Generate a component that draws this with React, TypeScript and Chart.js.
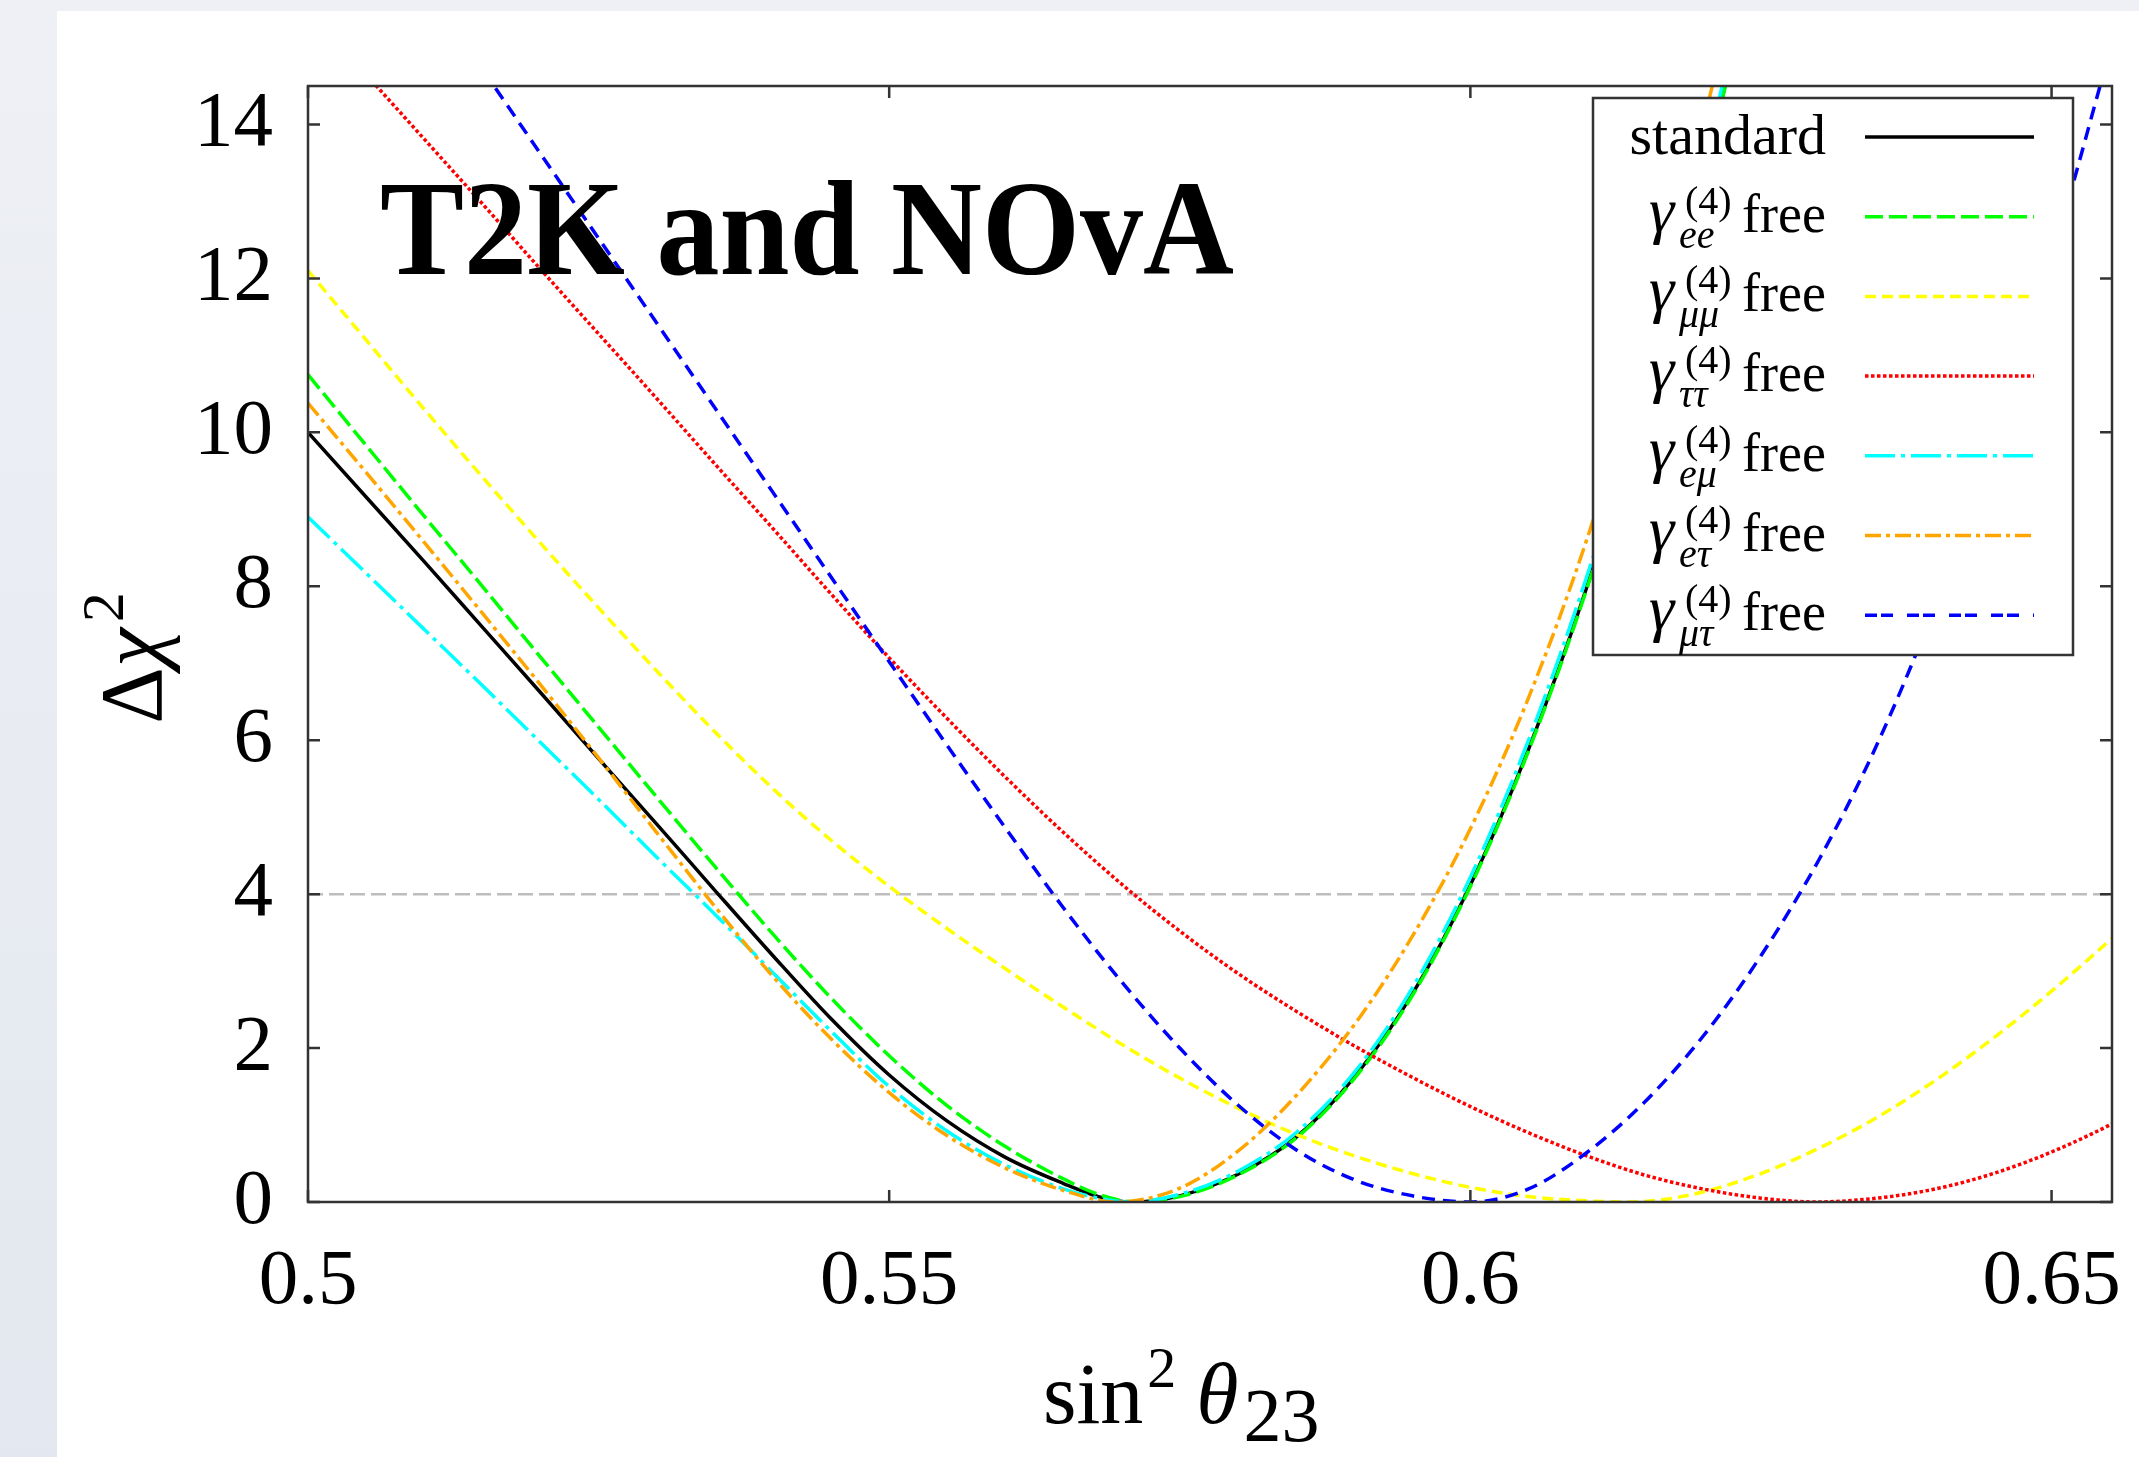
import React, { useEffect, useRef } from 'react';
import { Chart, registerables } from 'chart.js';

Chart.register(...registerables);

const SERIF = "'Liberation Serif', 'Times New Roman', serif";

// ---- axes ----
const X_MIN = 0.5;
const X_MAX = 0.6552;
const Y_MIN = 0;
const Y_MAX = 14.5;
const xTickValues = [0.5, 0.55, 0.6, 0.65];
const xTickLabels = ['0.5', '0.55', '0.6', '0.65'];
const yTickValues = [0, 2, 4, 6, 8, 10, 12, 14];
const yTickLabels = ['0', '2', '4', '6', '8', '10', '12', '14'];
const thresholdLevel = 4;
const plotTitle = 'T2K and NOvA';

// ---- series (sin^2 theta23 , delta chi^2) ----
const xStandard = [0.5, 0.505, 0.51, 0.515, 0.52, 0.525, 0.53, 0.535, 0.54, 0.545, 0.55, 0.555, 0.56, 0.565, 0.568, 0.5708, 0.575, 0.58, 0.585, 0.59, 0.595, 0.6, 0.605, 0.61, 0.615, 0.62, 0.625];
const yStandard = [10.0, 9.16, 8.32, 7.47, 6.62, 5.76, 4.91, 4.05, 3.2, 2.38, 1.65, 1.05, 0.58, 0.24, 0.07, 0, 0.08, 0.36, 0.84, 1.62, 2.7, 4.12, 5.88, 7.98, 10.45, 13.3, 16.5];

const xEE = [0.5, 0.505, 0.51, 0.515, 0.52, 0.525, 0.53, 0.535, 0.54, 0.545, 0.55, 0.555, 0.56, 0.565, 0.568, 0.5712, 0.575, 0.58, 0.585, 0.59, 0.595, 0.6, 0.605, 0.61, 0.615, 0.62, 0.625];
const yEE = [10.75, 9.83, 8.91, 8.0, 7.08, 6.17, 5.26, 4.36, 3.48, 2.65, 1.9, 1.25, 0.72, 0.3, 0.1, 0, 0.07, 0.35, 0.83, 1.6, 2.68, 4.1, 5.86, 7.96, 10.43, 13.28, 16.5];

const xMuMu = [0.5, 0.505, 0.51, 0.515, 0.52, 0.525, 0.53, 0.535, 0.54, 0.545, 0.55, 0.555, 0.56, 0.565, 0.57, 0.575, 0.58, 0.585, 0.59, 0.595, 0.6, 0.605, 0.61, 0.6135, 0.617, 0.62, 0.625, 0.63, 0.635, 0.64, 0.645, 0.65, 0.655, 0.66];
const yMuMu = [12.1, 11.2, 10.3, 9.42, 8.56, 7.72, 6.9, 6.11, 5.37, 4.7, 4.1, 3.55, 3.03, 2.53, 2.05, 1.61, 1.22, 0.88, 0.6, 0.37, 0.19, 0.07, 0.015, 0, 0.04, 0.13, 0.37, 0.7, 1.1, 1.58, 2.13, 2.74, 3.4, 4.1];

const xTauTau = [0.5, 0.505, 0.51, 0.515, 0.52, 0.525, 0.53, 0.535, 0.54, 0.545, 0.55, 0.555, 0.56, 0.565, 0.57, 0.575, 0.58, 0.585, 0.59, 0.595, 0.6, 0.605, 0.61, 0.615, 0.62, 0.625, 0.6297, 0.635, 0.64, 0.645, 0.65, 0.655, 0.66];
const yTauTau = [15.5, 14.65, 13.81, 12.97, 12.12, 11.28, 10.44, 9.59, 8.75, 7.9, 7.07, 6.28, 5.52, 4.8, 4.13, 3.52, 2.97, 2.48, 2.03, 1.62, 1.24, 0.9, 0.6, 0.35, 0.17, 0.05, 0, 0.05, 0.17, 0.37, 0.65, 1.0, 1.42];

const xEMu = [0.5, 0.505, 0.51, 0.515, 0.52, 0.525, 0.53, 0.535, 0.54, 0.545, 0.55, 0.555, 0.56, 0.565, 0.568, 0.5705, 0.575, 0.58, 0.585, 0.59, 0.595, 0.6, 0.605, 0.61, 0.615, 0.62, 0.625];
const yEMu = [8.9, 8.17, 7.44, 6.71, 5.97, 5.23, 4.48, 3.74, 2.98, 2.22, 1.5, 0.92, 0.48, 0.17, 0.05, 0, 0.1, 0.4, 0.9, 1.68, 2.78, 4.22, 6.0, 8.12, 10.6, 13.45, 16.7];

const xETau = [0.5, 0.505, 0.51, 0.515, 0.52, 0.525, 0.53, 0.535, 0.54, 0.545, 0.55, 0.555, 0.56, 0.565, 0.5695, 0.575, 0.58, 0.585, 0.59, 0.595, 0.6, 0.605, 0.61, 0.615, 0.62, 0.625];
const yETau = [10.38, 9.48, 8.57, 7.65, 6.72, 5.77, 4.8, 3.84, 2.93, 2.12, 1.42, 0.86, 0.44, 0.15, 0, 0.18, 0.66, 1.38, 2.3, 3.45, 4.85, 6.55, 8.6, 11.1, 14.0, 17.2];

const xMuTau = [0.51, 0.515, 0.52, 0.525, 0.53, 0.535, 0.54, 0.545, 0.55, 0.555, 0.56, 0.565, 0.57, 0.575, 0.58, 0.585, 0.59, 0.595, 0.6, 0.605, 0.61, 0.615, 0.62, 0.625, 0.63, 0.635, 0.64, 0.645, 0.65, 0.655];
const yMuTau = [15.82, 14.72, 13.62, 12.52, 11.42, 10.32, 9.22, 8.12, 7.02, 5.93, 4.86, 3.82, 2.86, 2.0, 1.26, 0.68, 0.29, 0.08, 0, 0.17, 0.64, 1.3, 2.15, 3.2, 4.45, 5.95, 7.75, 9.85, 12.25, 14.95];

const seriesSubscripts = ['', 'ee', 'μμ', 'ττ', 'eμ', 'eτ', 'μτ'];
const seriesColors = ['#000000', '#00ff00', '#ffff00', '#ff0000', '#00ffff', '#ffa500', '#0000ff'];
const seriesDashes: number[][] = [[], [18, 6], [11, 6], [3.5, 2.5], [30, 6, 4, 6], [16, 5, 4, 5], [13, 8]];
const legendDashes: number[][] = [[], [18, 6], [11, 6], [3.5, 2.5], [30, 6, 4, 6], [16, 5, 4, 5], [12, 4, 12, 14]];

const toPoints = (xs: number[], ys: number[]) => xs.map((x, i) => ({ x, y: ys[i] }));

const seriesData = [
  toPoints(xStandard, yStandard),
  toPoints(xEE, yEE),
  toPoints(xMuMu, yMuMu),
  toPoints(xTauTau, yTauTau),
  toPoints(xEMu, yEMu),
  toPoints(xETau, yETau),
  toPoints(xMuTau, yMuTau),
];

const decorPlugin = {
  id: 'decor',
  afterDatasetsDraw(chart: any) {
    const { ctx, chartArea: a, scales } = chart;
    const xs = scales.x;
    const ys = scales.y;
    ctx.save();

    // frame and inward ticks
    ctx.strokeStyle = '#333333';
    ctx.lineWidth = 2.5;
    ctx.setLineDash([]);
    ctx.strokeRect(a.left, a.top, a.right - a.left, a.bottom - a.top);
    const tl = 12;
    ctx.beginPath();
    yTickValues.forEach((v) => {
      const y = ys.getPixelForValue(v);
      ctx.moveTo(a.left, y);
      ctx.lineTo(a.left + tl, y);
      ctx.moveTo(a.right, y);
      ctx.lineTo(a.right - tl, y);
    });
    xTickValues.forEach((v) => {
      const x = xs.getPixelForValue(v);
      ctx.moveTo(x, a.bottom);
      ctx.lineTo(x, a.bottom - tl);
      ctx.moveTo(x, a.top);
      ctx.lineTo(x, a.top + tl);
    });
    ctx.stroke();

    // big title inside plot
    ctx.fillStyle = '#000';
    ctx.font = `bold 136px ${SERIF}`;
    ctx.textAlign = 'left';
    ctx.textBaseline = 'alphabetic';
    const tw = ctx.measureText(plotTitle).width;
    ctx.save();
    ctx.translate(a.left + 72, a.top + 188);
    ctx.scale(854 / tw, 1);
    ctx.fillText(plotTitle, 0, 0);
    ctx.restore();

    // legend
    const L = { left: a.right - 519, top: a.top + 12, w: 480, h: 557 };
    ctx.fillStyle = '#ffffff';
    ctx.fillRect(L.left, L.top, L.w, L.h);
    ctx.strokeStyle = '#333333';
    ctx.lineWidth = 2.5;
    ctx.strokeRect(L.left, L.top, L.w, L.h);
    chart.data.datasets.forEach((ds: any) => {
      if (ds.legendIndex === undefined) return;
      const k = ds.legendIndex;
      const cy = L.top + 39 + k * 79.7;
      ctx.fillStyle = '#000';
      ctx.textBaseline = 'alphabetic';
      if (k === 0) {
        ctx.font = `58px ${SERIF}`;
        ctx.textAlign = 'right';
        ctx.fillText('standard', L.left + 233, cy + 17);
      } else {
        ctx.textAlign = 'left';
        ctx.font = `italic 64px ${SERIF}`;
        ctx.fillText('γ', L.left + 56, cy + 14);
        ctx.font = `40px ${SERIF}`;
        ctx.fillText('(4)', L.left + 92, cy - 3);
        ctx.font = `italic 40px ${SERIF}`;
        ctx.fillText(seriesSubscripts[k], L.left + 86, cy + 31);
        ctx.font = `54px ${SERIF}`;
        ctx.textAlign = 'right';
        ctx.fillText('free', L.left + 233, cy + 15);
      }
      ctx.strokeStyle = ds.borderColor;
      ctx.lineWidth = 3.5;
      ctx.setLineDash(legendDashes[k]);
      ctx.beginPath();
      ctx.moveTo(L.left + 272, cy);
      ctx.lineTo(L.left + 441, cy);
      ctx.stroke();
      ctx.setLineDash([]);
    });

    // y axis title  (Δχ²)
    ctx.fillStyle = '#000';
    ctx.textAlign = 'left';
    ctx.save();
    ctx.translate(a.left - 147, (a.top + a.bottom) / 2 + 14);
    ctx.rotate(-Math.PI / 2);
    ctx.font = `88px ${SERIF}`;
    const wD = ctx.measureText('Δ').width;
    ctx.font = `italic 88px ${SERIF}`;
    const wC = ctx.measureText('χ').width;
    ctx.font = `60px ${SERIF}`;
    const w2 = ctx.measureText('2').width;
    let px = -(wD + wC + 6 + w2) / 2;
    ctx.font = `88px ${SERIF}`;
    ctx.fillText('Δ', px, 0);
    px += wD;
    ctx.font = `italic 88px ${SERIF}`;
    ctx.fillText('χ', px, 0);
    px += wC + 6;
    ctx.font = `60px ${SERIF}`;
    ctx.fillText('2', px, -38);
    ctx.restore();

    // x axis title  (sin² θ23)
    let sx = a.left + 735;
    const by = a.bottom + 221;
    ctx.font = `86px ${SERIF}`;
    ctx.fillText('sin', sx, by);
    sx += ctx.measureText('sin').width + 4;
    ctx.font = `58px ${SERIF}`;
    ctx.fillText('2', sx, by - 36);
    sx += ctx.measureText('2').width + 20;
    ctx.font = `italic 86px ${SERIF}`;
    ctx.fillText('θ', sx, by);
    sx += ctx.measureText('θ').width + 5;
    ctx.font = `76px ${SERIF}`;
    ctx.fillText('23', sx, by + 18);

    ctx.restore();
  },
};

export default function App() {
  const ref = useRef<HTMLCanvasElement>(null);

  useEffect(() => {
    const canvas = ref.current;
    if (!canvas) return;
    const labels = ['standard', 'γ(4)ee free', 'γ(4)μμ free', 'γ(4)ττ free', 'γ(4)eμ free', 'γ(4)eτ free', 'γ(4)μτ free'];
    const datasets: any[] = seriesData.map((pts, i) => ({
      label: labels[i],
      data: pts,
      borderColor: seriesColors[i],
      backgroundColor: seriesColors[i],
      borderWidth: 3.5,
      borderDash: seriesDashes[i],
      pointRadius: 0,
      fill: false,
      cubicInterpolationMode: 'monotone',
      order: 10 - i,
      legendIndex: i,
    }));
    datasets.push({
      label: 'Δχ² = 4',
      data: [
        { x: X_MIN, y: thresholdLevel },
        { x: X_MAX, y: thresholdLevel },
      ],
      borderColor: '#bdbdbd',
      borderWidth: 2.5,
      borderDash: [15, 6],
      pointRadius: 0,
      fill: false,
      order: 20,
    });

    const chart = new Chart(canvas, {
      type: 'line',
      data: { datasets },
      options: {
        animation: false,
        responsive: false,
        devicePixelRatio: 1,
        layout: { padding: { left: 0, top: 75, right: 27, bottom: 0 } },
        plugins: {
          legend: { display: false },
          tooltip: { enabled: false },
          title: { display: false },
        },
        scales: {
          x: {
            type: 'linear',
            min: X_MIN,
            max: X_MAX,
            afterBuildTicks: (s: any) => {
              s.ticks = xTickValues.map((v) => ({ value: v }));
            },
            afterFit: (s: any) => {
              s.height = 255;
              s.paddingLeft = 0;
              s.paddingRight = 0;
              s.paddingTop = 0;
              s.paddingBottom = 0;
            },
            grid: { display: false, drawTicks: false },
            border: { display: false },
            ticks: {
              autoSkip: false,
              maxRotation: 0,
              padding: 33,
              color: '#000',
              font: { family: SERIF, size: 79 },
              callback: (_v: any, i: number) => xTickLabels[i],
            },
          },
          y: {
            type: 'linear',
            min: Y_MIN,
            max: Y_MAX,
            afterBuildTicks: (s: any) => {
              s.ticks = yTickValues.map((v) => ({ value: v }));
            },
            afterFit: (s: any) => {
              s.width = 251;
              s.paddingLeft = 0;
              s.paddingRight = 0;
              s.paddingTop = 0;
              s.paddingBottom = 0;
            },
            grid: { display: false, drawTicks: false },
            border: { display: false },
            ticks: {
              autoSkip: false,
              padding: 35,
              color: '#000',
              font: { family: SERIF, size: 79 },
              callback: (_v: any, i: number) => yTickLabels[i],
            },
          },
        },
      } as any,
      plugins: [decorPlugin],
    });
    return () => chart.destroy();
  }, []);

  return (
    <div
      style={{
        position: 'fixed',
        left: 0,
        top: 0,
        width: 2139,
        height: 1457,
        overflow: 'hidden',
        background: 'linear-gradient(#eef0f5, #e3e7ef)',
      }}
    >
      <canvas
        ref={ref}
        width={2082}
        height={1446}
        style={{ position: 'absolute', left: 57, top: 11, width: 2082, height: 1446, background: '#ffffff' }}
      />
    </div>
  );
}
